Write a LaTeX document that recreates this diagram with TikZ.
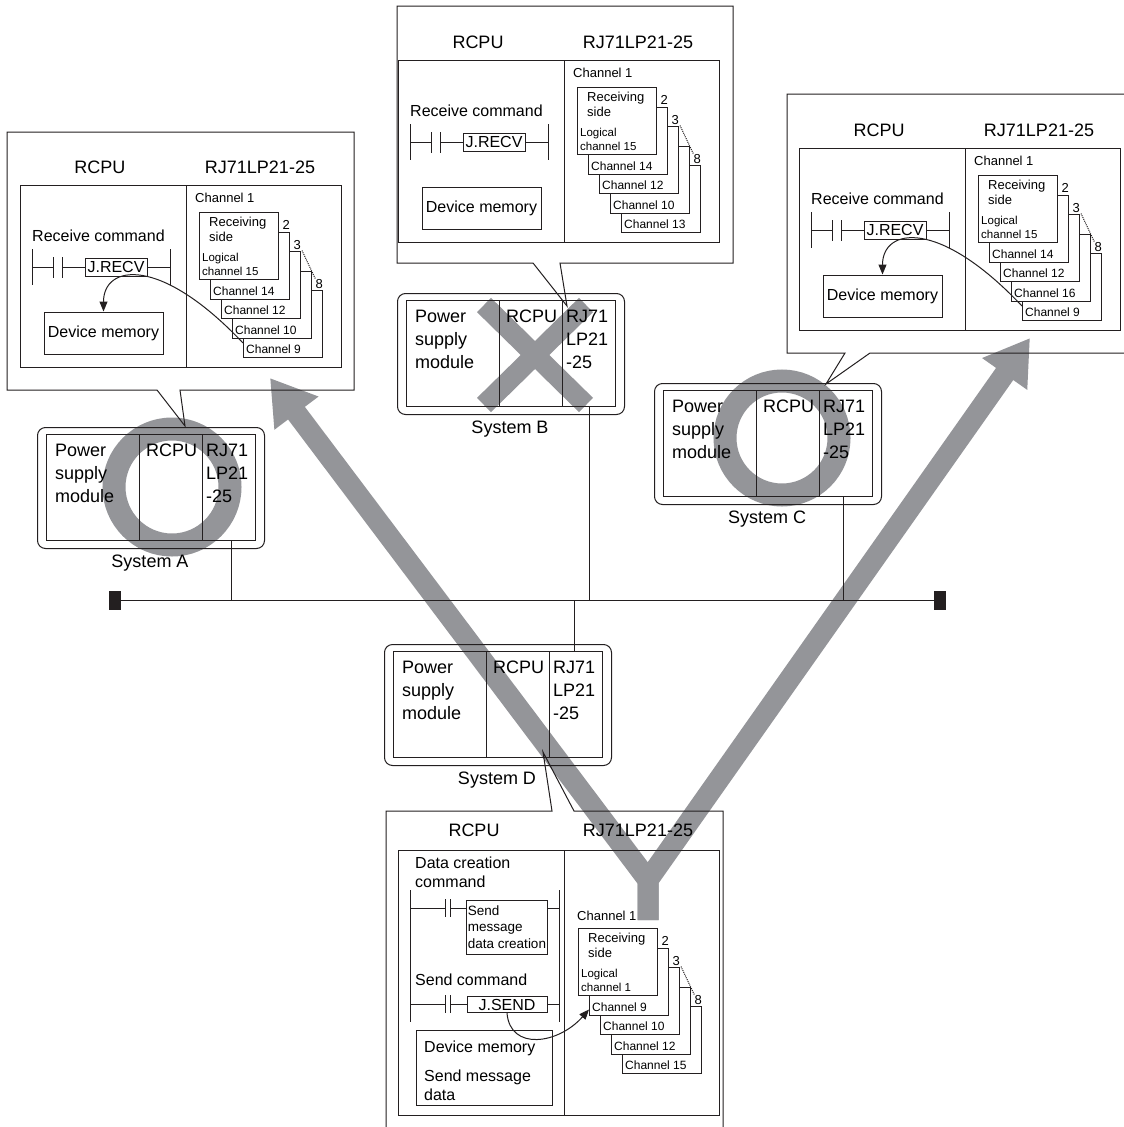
\documentclass[tikz,border=0pt]{standalone}
\usepackage{fontspec}
\setmainfont{Liberation Sans}
\usetikzlibrary{arrows.meta, positioning, calc}
\definecolor{plcline}{RGB}{35,31,32}
\definecolor{plcgray}{RGB}{148,149,153}
\newcommand{\fs}[2]{\fontsize{#1}{#2}\selectfont}

\tikzset{
  ln/.style={draw=plcline, line width=1pt},
  panelbox/.style={ln, anchor=north west, inner sep=0pt, minimum width=321pt, minimum height=182pt},
  chbox/.style={ln, fill=white, anchor=north west, inner sep=0pt, minimum width=79pt, minimum height=67pt},
  chlab/.style={font=\fs{12}{14}, anchor=south west, inner sep=0pt, xshift=3pt, yshift=4pt},
  chtxt/.style={font=\fs{13}{15}, anchor=north west, align=left, inner sep=0pt},
  logtxt/.style={font=\fs{11.5}{14}, anchor=north west, align=left, inner sep=0pt},
  numtxt/.style={font=\fs{13}{15}, anchor=south east, inner sep=0pt},
  head/.style={font=\fs{18}{22}, inner sep=0pt},
  txt/.style={font=\fs{16}{19}, inner sep=0pt},
  cmdbox/.style={ln, font=\fs{16}{19}, inner sep=0pt, minimum width=62pt, minimum height=18pt},
  membox/.style={ln, font=\fs{16}{19}, inner sep=0pt, minimum width=119pt, minimum height=42pt},
  sysouter/.style={ln, anchor=north west, rounded corners=8pt, inner sep=0pt, minimum width=227pt, minimum height=121pt},
  sysbox/.style={ln, anchor=north west, inner sep=0pt, minimum width=209pt, minimum height=106pt},
  systxt/.style={font=\fs{18}{23}, anchor=north west, align=left, inner sep=0pt},
  syslab/.style={font=\fs{18}{22}, inner sep=0pt},
  term/.style={fill=plcline, inner sep=0pt, minimum width=12pt, minimum height=19pt},
  bigmark/.style={draw=plcgray, line width=#1},
  bigarrow/.style={draw=plcgray, line width=21pt, line join=miter, -{Triangle[length=44pt,width=52pt]}},
  tiparrow/.style={ln, -{Triangle[length=10pt,width=8pt]}}
}

% pila de canales (caja 0 delante)
\newcommand{\chstack}[8]{%
  \foreach \k/\txt in {4/{#8},3/{#7},2/{#6},1/{#5}}{%
    \node[chbox] (#1\k) at ({#2+11*\k},{#3+19.5*\k}) {};
    \node[chlab] at (#1\k.south west) {\txt};
  }
  \node[chbox] (#10) at (#2,#3) {};
  \node[chtxt] at ([xshift=10pt,yshift=-5pt]#10.north west) {Receiving\\side};
  \node[logtxt] at ([xshift=3pt,yshift=-41pt]#10.north west) {Logical\\#4};
  \node[numtxt] (#1n2) at ([yshift=1.5pt]#11.north east) {2};
  \node[numtxt] (#1n3) at ([yshift=1.5pt]#12.north east) {3};
  \node[numtxt] (#1n8) at ([yshift=1.5pt]#14.north east) {8};
  \draw[ln, densely dotted] ([xshift=1pt,yshift=-1pt]#1n3.south east) -- (#1n8.north west);
}

% panel de recepcion
\newcommand{\recvpanel}[6]{%
  \begin{scope}[shift={#2}]
    \node[panelbox] (#1) at (0,0) {};
    \draw[ln] (166,0) -- (166,182);
    \node[head] at (80,-18) {RCPU};
    \node[head] at (240,-18) {RJ71LP21-25};
    \node[txt, anchor=west] at (12,51) {Receive command};
    \node[cmdbox] (#1cmd) at (96,82) {J.RECV};
    \draw[ln] (12,64) -- (12,100) (150,64) -- (150,100);
    \draw[ln] (33,72) -- (33,93) (42,72) -- (42,93);
    \draw[ln] (12,82) -- (33,82) (42,82) -- (#1cmd.west) (#1cmd.east) -- (150,82);
    \node[membox] (#1mem) at (83.5,148) {Device memory};
    \node[chtxt] at (175,8) {Channel 1};
    \chstack{#1c}{179}{27}{channel 15}{#3}{#4}{#5}{#6}
  \end{scope}}

% sistema PLC
\newcommand{\plcsystem}[3]{%
  \begin{scope}[shift={#2}]
    \node[sysouter] (#1out) at (-9,-7) {};
    \node[sysbox] (#1) at (0,0) {};
    \draw[ln] (93,0) -- (93,106) (156,0) -- (156,106);
    \node[systxt] at (9,9.5) {Power\\supply\\module};
    \node[systxt] at (100,9.5) {RCPU};
    \node[systxt] at (160,9.5) {RJ71\\LP21\\-25};
    \node[syslab] (#1lab) at (104,129) {#3};
  \end{scope}}

\begin{document}
\begin{tikzpicture}[x=1pt, y=-1pt]
\useasboundingbox (0,0) rectangle (1124,1127);
\fill[white] (0,0) rectangle (1124,1127);
\clip (0,0) rectangle (1124,1127);

% === Marcas grises ===
\draw[bigmark=23pt] (172,487) circle (58pt);
\draw[bigmark=23pt] (782,438) circle (57pt);
\draw[bigmark=20pt] (484,305) -- (586,405) (586,305) -- (484,405);
\coordinate (yBase) at (648,920);
\coordinate (yFork) at (648,880);
\coordinate (tipA) at (270,378);
\coordinate (tipC) at (1030,338);
\draw[bigarrow] (yBase) -- (yFork) -- (tipA);
\draw[bigarrow] (yBase) -- (yFork) -- (tipC);

% === Bocadillos ===
\draw[ln] (7,132) -- (354,132) -- (354,390) -- (180,390) -- (185,426) -- (157,390) -- (7,390) -- cycle;
\draw[ln] (397,6) -- (733,6) -- (733,263) -- (560,263) -- (567,306) -- (533,263) -- (397,263) -- cycle;
\draw[ln] (787,94) -- (1130,94) -- (1130,353) -- (870,353) -- (826,384) -- (845,353) -- (787,353) -- cycle;
\draw[ln] (386,811) -- (552,811) -- (543,752) -- (574,811) -- (723,811) -- (723,1140) -- (386,1140) -- cycle;

% === Paneles de recepcion ===
\recvpanel{pa}{(20,185)}{Channel 14}{Channel 12}{Channel 10}{Channel 9}
\recvpanel{pb}{(398,60)}{Channel 14}{Channel 12}{Channel 10}{Channel 13}
\recvpanel{pc}{(799,148)}{Channel 14}{Channel 12}{Channel 16}{Channel 9}
\draw[tiparrow] ([yshift=-53pt]pac4.north west) .. controls +(-83,-88) and +(0,-47) .. (pamem.north);
\draw[tiparrow] ([yshift=-53pt]pcc4.north west) .. controls +(-83,-88) and +(0,-47) .. (pcmem.north);

% === Panel de envio (sistema D) ===
\begin{scope}[shift={(398,850)}]
  \node[panelbox, minimum height=265pt] (pd) at (0,0) {};
  \draw[ln] (166,0) -- (166,265);
  \node[head] at (76,-20) {RCPU};
  \node[head] at (240,-20) {RJ71LP21-25};
  \node[txt, anchor=north west, align=left] at (17,7) {Data creation\\command};
  \draw[ln] (12,40) -- (12,172) (161,40) -- (161,172);
  % renglon 1
  \node[cmdbox, minimum width=80pt, minimum height=54pt, inner sep=1pt, align=left, font=\fs{13.5}{16.5}] (pdData) at (109,77) {Send\\message\\data creation};
  \draw[ln] (47,49) -- (47,67) (52,49) -- (52,67);
  \draw[ln] (12,58) -- (47,58) (52,58) -- (69,58) (149,58) -- (161,58);
  % renglon 2
  \node[txt, anchor=west] at (17,130) {Send command};
  \node[cmdbox, minimum width=80pt, minimum height=16pt] (pdSend) at (109,154.5) {J.SEND};
  \draw[ln] (47,145) -- (47,163) (52,145) -- (52,163);
  \draw[ln] (12,154.5) -- (47,154.5) (52,154.5) -- (pdSend.west) (pdSend.east) -- (161,154.5);
  % memoria
  \node[ln, minimum width=136pt, minimum height=75pt, inner sep=0pt] (pdMem) at (86,217.5) {};
  \node[txt, anchor=west] at (26,198) {Device memory};
  \node[txt, anchor=north west, align=left] at (26,220) {Send message\\data};
  \node[chtxt] at (179,61) {Channel 1};
  \chstack{pdc}{180}{78}{channel 1}{Channel 9}{Channel 10}{Channel 12}{Channel 15}
\end{scope}
\draw[tiparrow] (pdSend.south) .. controls +(3,38) and +(-31,35) .. ([yshift=-62pt]pdc1.north west);

% === Sistemas ===
\plcsystem{sysA}{(46,434)}{System A}
\plcsystem{sysB}{(406,300)}{System B}
\plcsystem{sysC}{(663,390)}{System C}
\plcsystem{sysD}{(393,651)}{System D}

% === Bus ===
\node[term] (termL) at (115,600) {};
\node[term] (termR) at (940,600) {};
\draw[ln] (termL) -- (termR);
\coordinate (tapA) at (231,600);
\coordinate (tapB) at (589,600);
\coordinate (tapC) at (843,600);
\coordinate (tapD) at (574,600);
\draw[ln] (tapA |- sysA.south) -- (tapA);
\draw[ln] (tapB |- sysB.south) -- (tapB);
\draw[ln] (tapC |- sysC.south) -- (tapC);
\draw[ln] (tapD) -- (tapD |- sysD.north);

\end{tikzpicture}
\end{document}
